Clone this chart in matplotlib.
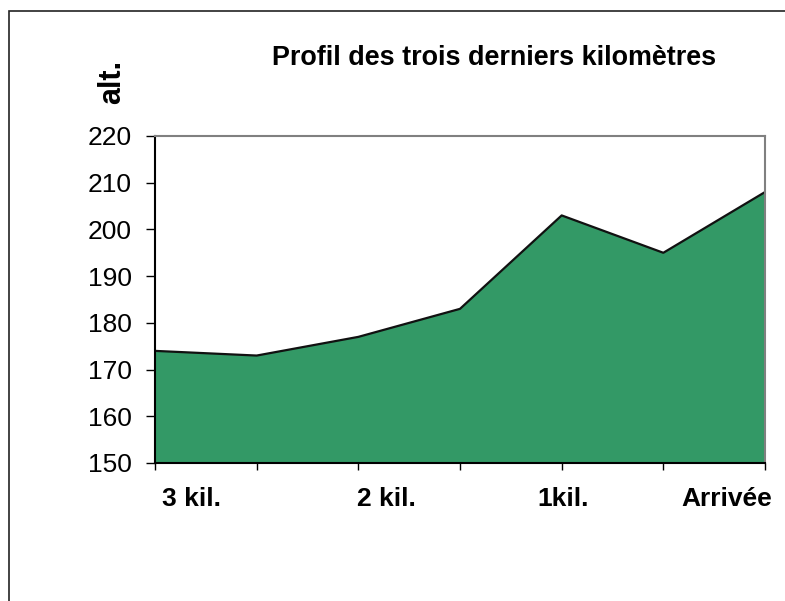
import matplotlib
matplotlib.use("Agg")
import matplotlib.pyplot as plt
from matplotlib.patches import Rectangle
from matplotlib.transforms import ScaledTranslation

plt.rcParams['font.family'] = ['Liberation Sans', 'DejaVu Sans']

altitudes = [174, 173, 177, 183, 203, 195, 208]
tick_labels = ["3 kil.", "", "2 kil.", "", "1kil.", "", "Arrivée"]
title = "Profil des trois derniers kilomètres"
ylabel = "alt."

W, H = 785, 601
DPI = 100
fig = plt.figure(figsize=(W / DPI, H / DPI), dpi=DPI)
fig.patch.set_facecolor("white")

# outer border (only left/top visible in reference)
fig.patches.append(Rectangle((9 / W, -0.1), 1.2, 1 - 11 / H + 0.1,
                             transform=fig.transFigure, fill=False,
                             edgecolor="#222222", linewidth=1.2))

ax = fig.add_axes([155 / W, 1 - 463 / H, (765 - 155) / W, (463 - 136) / H])
x = list(range(len(altitudes)))
ax.fill_between(x, 150, altitudes, facecolor="#339966", edgecolor="none")
ax.plot(x, altitudes, color="#111111", linewidth=1.6)
ax.set_xlim(0, len(altitudes) - 1)
ax.set_ylim(150, 220)
ax.set_yticks(range(150, 221, 10))
ax.set_xticks(x)
ax.set_xticklabels(tick_labels, fontweight="bold", fontsize=19)
ax.tick_params(axis="y", labelsize=19, length=6.5, width=1, direction="out", pad=10)
ax.tick_params(axis="x", length=5, width=1, direction="out", pad=12.5)

# horizontal offsets (pixels) of category labels relative to their ticks
label_offsets_px = [36, 0, 28, 0, 1, 0, -38]
for lab, dx in zip(ax.get_xticklabels(), label_offsets_px):
    lab.set_transform(lab.get_transform() + ScaledTranslation(dx / DPI, 0, fig.dpi_scale_trans))

for s in ("left", "bottom"):
    ax.spines[s].set_color("black")
    ax.spines[s].set_linewidth(1.5)
for s in ("top", "right"):
    ax.spines[s].set_color("#808080")
    ax.spines[s].set_linewidth(1.5)

fig.text(494 / W, 1 - 65 / H, title, ha="center", va="baseline",
         fontsize=19.4, fontweight="bold")
fig.text(112 / W, 1 - 82 / H, ylabel, ha="center", va="center",
         fontsize=22, fontweight="bold", rotation=90)

fig.savefig("out.png", dpi=DPI)
